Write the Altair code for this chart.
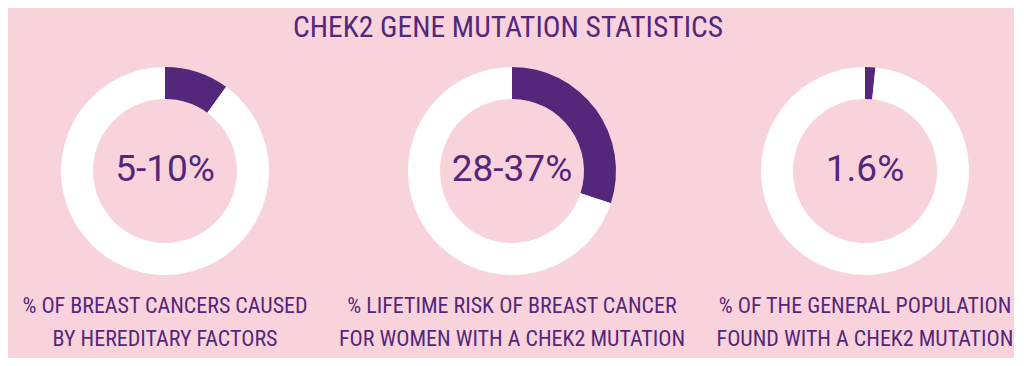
import altair as alt
import pandas as pd

title_text = "CHEK2 GENE MUTATION STATISTICS"
center_labels = ["5-10%", "28-37%", "1.6%"]
shares = [10, 30, 1.6]
captions = [
    "% OF BREAST CANCERS CAUSED\nBY HEREDITARY FACTORS",
    "% LIFETIME RISK OF BREAST CANCER\nFOR WOMEN WITH A CHEK2 MUTATION",
    "% OF THE GENERAL POPULATION\nFOUND WITH A CHEK2 MUTATION",
]

PURPLE = "#54277a"
BG = "#f9d3dc"
NARROW = "Roboto Condensed, Liberation Sans Narrow, DejaVu Sans Condensed, sans-serif"

PW, PH = 306, 350
CY = 163
X_SHIFT = [4, 1, 4]

panels = []
for i, (lab, s, cap) in enumerate(zip(center_labels, shares, captions)):
    cx = PW / 2 + X_SHIFT[i]
    d = pd.DataFrame({
        "seg": ["share", "rest"],
        "ord": [0, 1],
        "value": [s, 100 - s],
    })
    t = pd.DataFrame({"label": [lab], "caption": [cap]})
    arc = alt.Chart(d).mark_arc(radius=104, radius2=72).encode(
        x=alt.value(cx),
        y=alt.value(CY),
        theta=alt.Theta("value:Q", stack=True),
        order=alt.Order("ord:Q"),
        color=alt.Color("seg:N", scale=alt.Scale(domain=["share", "rest"], range=[PURPLE, "#ffffff"]), legend=None),
    )
    center = alt.Chart(t).mark_text(
        font="Roboto", fontSize=37, color=PURPLE, baseline="middle", align="center"
    ).encode(x=alt.value(cx), y=alt.value(CY - 1), text="label:N")
    capt = alt.Chart(t).mark_text(
        font=NARROW, fontSize=22, color=PURPLE, baseline="alphabetic", align="center",
        lineBreak="\n", lineHeight=33,
    ).encode(x=alt.value(cx), y=alt.value(305), text="caption:N")
    layers = [arc, center, capt]
    if i == 1:
        ttl = alt.Chart(pd.DataFrame({"t": [title_text]})).mark_text(
            font=NARROW, fontSize=29.5, color=PURPLE, baseline="alphabetic", align="center"
        ).encode(x=alt.value(PW / 2 - 3), y=alt.value(29), text="t:N")
        layers.append(ttl)
    panels.append(alt.layer(*layers).properties(width=PW, height=PH))

chart = alt.hconcat(*panels, spacing=44, bounds="flush").properties(
    padding=0, background=BG,
).configure_view(stroke=None)

chart.save("out.html", embed_options={"renderer": "svg", "actions": False})
